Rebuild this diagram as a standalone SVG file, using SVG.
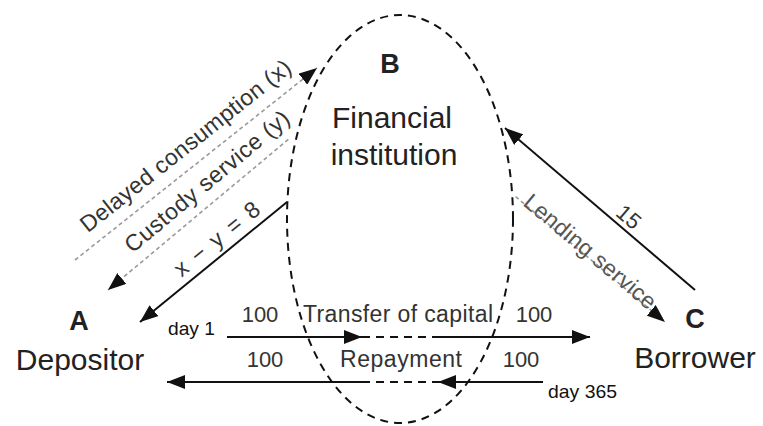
<svg xmlns="http://www.w3.org/2000/svg" width="763" height="426" viewBox="0 0 763 426">
<defs>
<style>
text{font-family:"Liberation Sans",Arial,sans-serif;fill:#222}
.id{font-weight:bold;font-size:27px;text-anchor:middle}
.nm{font-size:30px;text-anchor:middle}
.lb{font-size:23px;fill:#333}
.num{font-size:22px;fill:#333;text-anchor:middle}
.day{font-size:19px;fill:#111}
.solid{stroke:#111;stroke-width:2;fill:none}
.dash{stroke:#111;stroke-width:2;fill:none;stroke-dasharray:8 6}
.gray{stroke:#9a9a9a;stroke-width:1.6;fill:none;stroke-dasharray:4 3}
</style>
<marker id="ah" markerUnits="userSpaceOnUse" markerWidth="18" markerHeight="14" refX="18" refY="7" orient="auto-start-reverse">
<path d="M0,0 L18,7 L0,14 z" fill="#111"/>
</marker>
</defs>
<rect width="763" height="426" fill="#fff"/>

<g id="B">
<ellipse cx="400" cy="219" rx="113" ry="204" class="dash"/>
<text class="id" x="390" y="73">B</text>
<text class="nm" x="392" y="128">Financial</text>
<text class="nm" x="394" y="165">institution</text>
</g>

<g id="A">
<text class="id" x="79" y="330">A</text>
<text class="nm" x="80" y="370">Depositor</text>
</g>

<g id="C">
<text class="id" x="695" y="328">C</text>
<text class="nm" x="695" y="368">Borrower</text>
</g>

<g id="connectors">
<g transform="translate(75,260) rotate(-38.43)">
<line x1="0" y1="0" x2="308.9" y2="0" class="gray" marker-end="url(#ah)"/>
<text class="lb" x="26.5" y="-13" textLength="262">Delayed consumption (x)</text>
</g>
<g transform="translate(108,290) rotate(-39.87)">
<line x1="0" y1="0" x2="237" y2="0" class="gray" marker-start="url(#ah)"/>
<text class="lb" x="42" y="-12" textLength="207">Custody service (y)</text>
</g>
<g transform="translate(140,322) rotate(-39.22)">
<line x1="0" y1="0" x2="189.8" y2="0" class="solid" marker-start="url(#ah)"/>
<text class="lb" x="60" y="-8" textLength="104">x − y = 8</text>
</g>
<g transform="translate(505,128) rotate(40.45)">
<line x1="0" y1="0" x2="249.7" y2="0" class="solid" marker-start="url(#ah)"/>
<text class="num" x="152" y="-5">15</text>
</g>
<g transform="translate(515.6,196.6) rotate(40)">
<line x1="0" y1="0" x2="195" y2="0" class="gray" marker-end="url(#ah)"/>
<text class="lb" x="10" y="2" textLength="165" style="fill:#555">Lending service</text>
</g>

<g id="transfer">
<line x1="227" y1="337" x2="362" y2="337" class="solid" marker-end="url(#ah)"/>
<line x1="362" y1="337" x2="437" y2="337" class="dash"/>
<line x1="437" y1="337" x2="590" y2="337" class="solid" marker-end="url(#ah)"/>
<text class="num" x="260" y="322">100</text>
<text class="lb" x="303" y="322" textLength="190">Transfer of capital</text>
<text class="num" x="534" y="322">100</text>
<text class="day" x="168" y="335" textLength="47" lengthAdjust="spacingAndGlyphs">day 1</text>
</g>
<g id="repayment">
<line x1="362" y1="382" x2="167" y2="382" class="solid" marker-end="url(#ah)"/>
<line x1="362" y1="382" x2="438" y2="382" class="dash"/>
<line x1="543" y1="382" x2="438" y2="382" class="solid" marker-end="url(#ah)"/>
<text class="num" x="265" y="367">100</text>
<text class="lb" x="340" y="367" textLength="122">Repayment</text>
<text class="num" x="521" y="367">100</text>
<text class="day" x="548" y="398" textLength="69" lengthAdjust="spacingAndGlyphs">day 365</text>
</g>
</g>
</svg>
